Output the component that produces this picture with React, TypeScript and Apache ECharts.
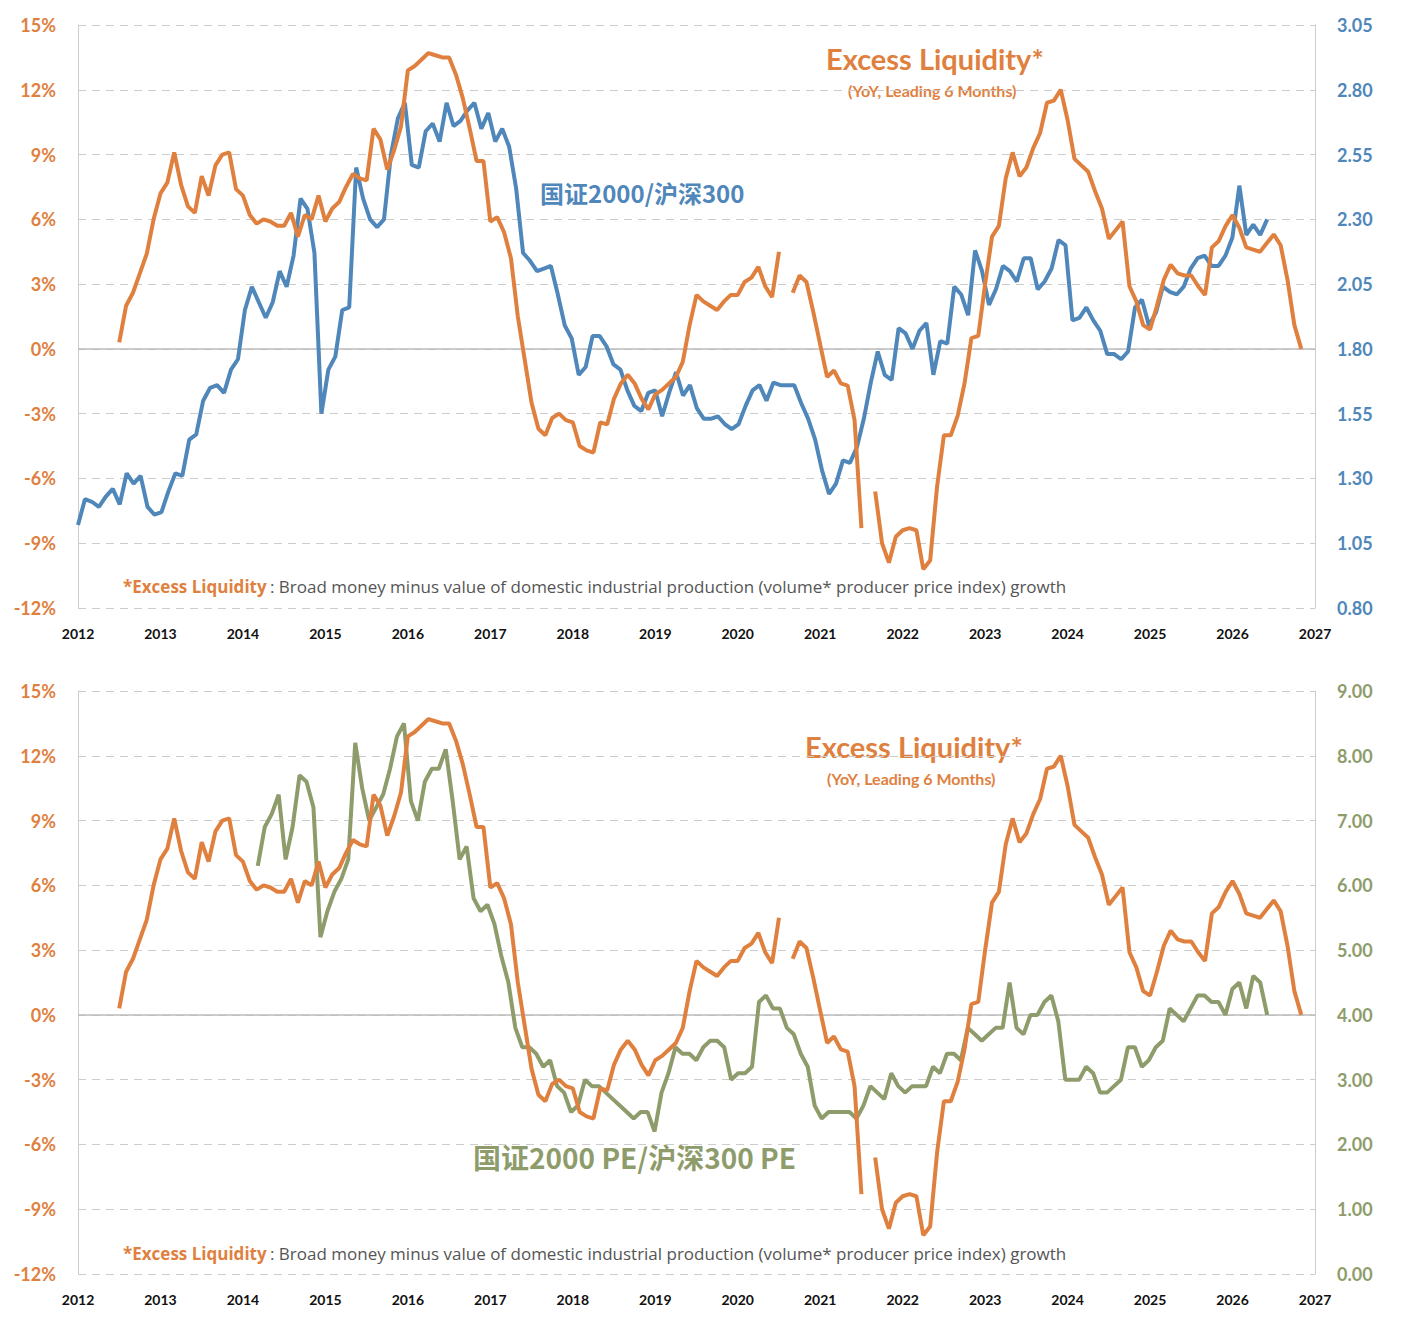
import { useEffect, useRef } from 'react';
import * as echarts from 'echarts';

// ---- data ----
const years = [2012, 2013, 2014, 2015, 2016, 2017, 2018, 2019, 2020, 2021, 2022, 2023, 2024, 2025, 2026, 2027];
const leftTicks = [-12, -9, -6, -3, 0, 3, 6, 9, 12, 15];

// Excess liquidity, monthly from 2012.5 (null = gap)
const liqStart = 2012.5;
const liquidity: (number | null)[] = [
  0.3, 2.0, 2.6, 3.5, 4.4, 6.0, 7.2, 7.7, 9.1, 7.6,
  6.6, 6.3, 8.0, 7.1, 8.5, 9.0, 9.1, 7.4, 7.1, 6.2,
  5.8, 6.0, 5.9, 5.7, 5.7, 6.3, 5.2, 6.2, 6.0, 7.1,
  5.9, 6.5, 6.8, 7.5, 8.1, 7.9, 7.8, 10.2, 9.7, 8.3,
  9.2, 10.3, 12.9, 13.1, 13.4, 13.7, 13.6, 13.5, 13.5, 12.7,
  11.6, 10.2, 8.7, 8.7, 5.9, 6.1, 5.4, 4.2, 1.5, -0.5,
  -2.5, -3.7, -4.0, -3.2, -3.0, -3.3, -3.4, -4.5, -4.7, -4.8,
  -3.4, -3.5, -2.3, -1.6, -1.2, -1.6, -2.3, -2.8, -2.1, -1.9,
  -1.6, -1.3, -0.6, 1.1, 2.5, 2.2, 2.0, 1.8, 2.2, 2.5,
  2.5, 3.1, 3.3, 3.8, 2.9, 2.4, 4.5,
  null,
  2.6, 3.4, 3.1, 1.7, 0.2, -1.3, -1.0, -1.6, -1.7, -3.3, -8.3,
  null,
  -6.6, -9.0, -9.9, -8.7, -8.4, -8.3, -8.4, -10.2, -9.8, -6.4,
  -4.0, -4.0, -3.1, -1.6, 0.5, 0.6, 3.0, 5.2, 5.7, 7.9,
  9.1, 8.0, 8.4, 9.3, 10.0, 11.4, 11.5, 12.0, 10.6, 8.8,
  8.5, 8.2, 7.3, 6.5, 5.1, 5.5, 5.9, 2.9, 2.2, 1.1,
  0.9, 2.0, 3.2, 3.9, 3.5, 3.4, 3.4, 2.9, 2.5, 4.7,
  5.0, 5.7, 6.2, 5.6, 4.7, 4.6, 4.5, 4.9, 5.3, 4.8,
  3.2, 1.1, 0.0,
];

// 国证2000/沪深300 ratio
const ratioStart = 2012.0;
const ratioEnd = 2026.42;
const ratio = [
  1.12, 1.22, 1.21, 1.19, 1.23, 1.26, 1.20, 1.32, 1.28, 1.31,
  1.19, 1.16, 1.17, 1.25, 1.32, 1.31, 1.45, 1.47, 1.60, 1.65,
  1.66, 1.63, 1.72, 1.76, 1.95, 2.04, 1.98, 1.92, 1.98, 2.10,
  2.04, 2.16, 2.38, 2.34, 2.17, 1.55, 1.72, 1.77, 1.95, 1.96,
  2.50, 2.38, 2.30, 2.27, 2.30, 2.55, 2.69, 2.75, 2.51, 2.50,
  2.64, 2.67, 2.60, 2.75, 2.66, 2.68, 2.72, 2.75, 2.65, 2.71,
  2.60, 2.65, 2.58, 2.42, 2.17, 2.14, 2.10, 2.11, 2.12, 2.01,
  1.89, 1.84, 1.70, 1.73, 1.85, 1.85, 1.81, 1.74, 1.72, 1.64,
  1.58, 1.56, 1.63, 1.64, 1.54, 1.63, 1.71, 1.62, 1.66, 1.57,
  1.53, 1.53, 1.54, 1.51, 1.49, 1.51, 1.58, 1.64, 1.66, 1.60,
  1.67, 1.66, 1.66, 1.66, 1.59, 1.53, 1.45, 1.33, 1.24, 1.28,
  1.37, 1.36, 1.42, 1.53, 1.67, 1.79, 1.70, 1.68, 1.88, 1.86,
  1.80, 1.87, 1.90, 1.70, 1.83, 1.82, 2.04, 2.01, 1.93, 2.18,
  2.10, 1.97, 2.03, 2.12, 2.10, 2.06, 2.15, 2.15, 2.03, 2.06,
  2.11, 2.22, 2.20, 1.91, 1.92, 1.96, 1.91, 1.87, 1.78, 1.78,
  1.76, 1.79, 1.96, 1.99, 1.89, 1.94, 2.04, 2.02, 2.01, 2.04,
  2.11, 2.15, 2.16, 2.12, 2.12, 2.16, 2.23, 2.43, 2.24, 2.28,
  2.24, 2.30,
];

// 国证2000 PE/沪深300 PE
const peStart = 2014.18;
const peEnd = 2026.42;
const peRatio = [
  6.3, 6.9, 7.1, 7.4, 6.4, 6.9, 7.7, 7.6, 7.2, 5.2,
  5.6, 5.9, 6.1, 6.4, 8.2, 7.5, 7.0, 7.2, 7.4, 7.8,
  8.3, 8.5, 7.3, 7.0, 7.6, 7.8, 7.8, 8.1, 7.3, 6.4,
  6.6, 5.8, 5.6, 5.7, 5.4, 4.9, 4.5, 3.8, 3.5, 3.5,
  3.4, 3.2, 3.3, 2.9, 2.8, 2.5, 2.6, 3.0, 2.9, 2.9,
  2.8, 2.7, 2.6, 2.5, 2.4, 2.5, 2.5, 2.2, 2.8, 3.1,
  3.5, 3.4, 3.4, 3.3, 3.5, 3.6, 3.6, 3.5, 3.0, 3.1,
  3.1, 3.2, 4.2, 4.3, 4.1, 4.1, 3.8, 3.7, 3.4, 3.2,
  2.6, 2.4, 2.5, 2.5, 2.5, 2.5, 2.4, 2.6, 2.9, 2.8,
  2.7, 3.1, 2.9, 2.8, 2.9, 2.9, 2.9, 3.2, 3.1, 3.4,
  3.4, 3.3, 3.8, 3.7, 3.6, 3.7, 3.8, 3.8, 4.5, 3.8,
  3.7, 4.0, 4.0, 4.2, 4.3, 3.9, 3.0, 3.0, 3.0, 3.2,
  3.1, 2.8, 2.8, 2.9, 3.0, 3.5, 3.5, 3.2, 3.3, 3.5,
  3.6, 4.1, 4.0, 3.9, 4.1, 4.3, 4.3, 4.2, 4.2, 4.0,
  4.4, 4.5, 4.1, 4.6, 4.5, 4.0,
];

const ORANGE = '#E0803F';
const BLUE = '#4F87BA';
const GREEN = '#8E9C6C';
const FONT = 'Lato, "Open Sans", sans-serif';
const FOOT_FONT = '"Open Sans", Lato, sans-serif';

const monthly = (start: number, vals: (number | null)[]) =>
  vals.map((v, i) => [start + i / 12, v]);
const spread = (start: number, end: number, vals: number[]) =>
  vals.map((v, i) => [start + (i * (end - start)) / (vals.length - 1), v]);

function buildOption(opts: {
  gridTop: number;
  gridBottom: number;
  right: { min: number; max: number; interval: number; color: string };
  series2: number[][];
  color2: string;
  cnLabel: string;
  cnPos: { left: number; top: number; size: number };
  titlePos: { left: number; top: number };
  footTop: number;
}): echarts.EChartsOption {
  return {
    animation: false,
    grid: { left: 70, right: 84, top: opts.gridTop, bottom: opts.gridBottom },
    xAxis: {
      type: 'value',
      min: years[0],
      max: years[years.length - 1],
      interval: 1,
      axisLine: { show: false },
      axisTick: { show: false },
      splitLine: { show: false },
      axisLabel: { formatter: (v: number) => String(v), color: '#111', fontSize: 14, fontWeight: 'bold', fontFamily: FONT, margin: 18 },
    },
    yAxis: [
      {
        type: 'value',
        min: leftTicks[0],
        max: leftTicks[leftTicks.length - 1],
        interval: 3,
        axisLine: { show: true, lineStyle: { color: '#ccc' } },
        axisTick: { show: false },
        splitLine: { lineStyle: { color: '#ccc', type: [8, 6] } },
        axisLabel: { formatter: (v: number) => `${v}%`, color: ORANGE, fontSize: 18, fontWeight: 'bold', fontFamily: FONT, margin: 22 },
      },
      {
        type: 'value',
        min: opts.right.min,
        max: opts.right.max,
        interval: opts.right.interval,
        axisLine: { show: true, lineStyle: { color: '#ccc' } },
        axisTick: { show: false },
        splitLine: { show: false },
        axisLabel: { formatter: (v: number) => v.toFixed(2), color: opts.right.color, fontSize: 18, fontWeight: 'bold', fontFamily: FONT, margin: 22 },
      },
    ],
    series: [
      {
        type: 'line',
        yAxisIndex: 1,
        data: opts.series2,
        showSymbol: false,
        lineStyle: { color: opts.color2, width: 4 },
        itemStyle: { color: opts.color2 },
      },
      {
        type: 'line',
        yAxisIndex: 0,
        data: monthly(liqStart, liquidity),
        showSymbol: false,
        connectNulls: false,
        lineStyle: { color: ORANGE, width: 4 },
        itemStyle: { color: ORANGE },
        z: 3,
        markLine: {
          silent: true,
          symbol: 'none',
          label: { show: false },
          lineStyle: { color: '#bbb', type: 'solid', width: 1.5 },
          data: [{ yAxis: 0 }],
          z: 1,
        },
      },
    ],
    graphic: [
      {
        type: 'text',
        left: opts.titlePos.left,
        top: opts.titlePos.top,
        style: { text: 'Excess Liquidity*', fill: ORANGE, font: `bold 29px ${FONT}` },
      },
      {
        type: 'text',
        left: opts.titlePos.left + 22,
        top: opts.titlePos.top + 38,
        style: { text: '(YoY, Leading 6 Months)', fill: ORANGE, font: `bold 16px ${FONT}` },
      },
      {
        type: 'text',
        left: opts.cnPos.left,
        top: opts.cnPos.top,
        style: { text: opts.cnLabel, fill: opts.color2, font: `bold ${opts.cnPos.size}px "Noto Sans CJK SC", ${FONT}` },
      },
      {
        type: 'text',
        left: 115,
        top: opts.footTop,
        style: {
          text: '{a|*Excess Liquidity} {b|: Broad money minus value of domestic industrial production (volume* producer price index) growth}',
          rich: {
            a: { fill: ORANGE, font: `bold 17px ${FOOT_FONT}` },
            b: { fill: '#555', font: `17px ${FOOT_FONT}` },
          },
        },
      },
    ],
  };
}

function Chart({ height, option }: { height: number; option: echarts.EChartsOption }) {
  const ref = useRef<HTMLDivElement>(null);
  useEffect(() => {
    if (!ref.current) return;
    const chart = echarts.init(ref.current, undefined, { renderer: 'svg' });
    chart.setOption(option);
    return () => chart.dispose();
  }, [option]);
  return <div ref={ref} style={{ width: 1391, height }} />;
}

const topOption = buildOption({
  gridTop: 17,
  gridBottom: 58,
  right: { min: 0.8, max: 3.05, interval: 0.25, color: BLUE },
  series2: spread(ratioStart, ratioEnd, ratio),
  color2: BLUE,
  cnLabel: '国证2000/沪深300',
  cnPos: { left: 532, top: 172, size: 24 },
  titlePos: { left: 818, top: 36 },
  footTop: 570,
});

const bottomOption = buildOption({
  gridTop: 25,
  gridBottom: 49,
  right: { min: 0, max: 9, interval: 1, color: GREEN },
  series2: spread(peStart, peEnd, peRatio),
  color2: GREEN,
  cnLabel: '国证2000 PE/沪深300 PE',
  cnPos: { left: 465, top: 477, size: 28 },
  titlePos: { left: 797, top: 66 },
  footTop: 579,
});

export default function App() {
  return (
    <div style={{ width: 1391 }}>
      <Chart height={658} option={topOption} />
      <Chart height={657} option={bottomOption} />
    </div>
  );
}
